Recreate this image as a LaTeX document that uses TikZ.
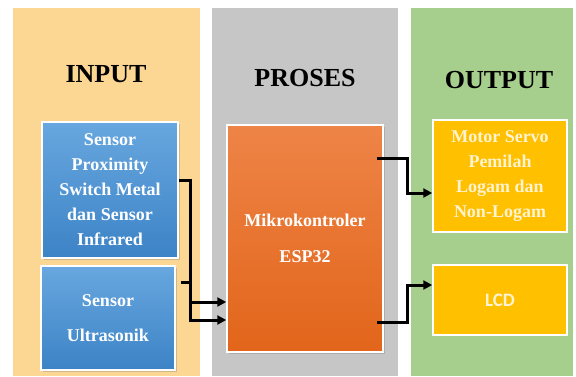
\documentclass[tikz,border=0pt]{standalone}
\usepackage{fontspec}
\setmainfont{Liberation Serif}
\newfontfamily\carlito{Carlito}
\usetikzlibrary{arrows.meta,shadows}
\definecolor{inbg}{HTML}{FCD793}
\definecolor{prbg}{HTML}{C6C6C6}
\definecolor{outbg}{HTML}{A6CE8C}
\definecolor{bluetop}{HTML}{68A7DF}
\definecolor{bluebot}{HTML}{3C83C6}
\definecolor{orgtop}{HTML}{EE8447}
\definecolor{orgbot}{HTML}{E2651A}
\definecolor{yel}{HTML}{FFC000}
\definecolor{cream}{HTML}{FFF3D0}
\begin{document}
\begin{tikzpicture}[x=1pt,y=-1pt,
  title/.style={font=\fontsize{26}{30}\selectfont\bfseries,text=black},
  bluebox/.style={draw=white,line width=1.5pt,top color=bluetop,bottom color=bluebot,
    text=white,font=\fontsize{18}{25}\selectfont\bfseries,align=center,inner sep=0pt,
    drop shadow={shadow xshift=1.5pt,shadow yshift=-1.5pt,opacity=0.35}},
  orgbox/.style={draw=white,line width=1.5pt,top color=orgtop,bottom color=orgbot,
    text=white,font=\fontsize{18}{36}\selectfont\bfseries,align=center,inner sep=0pt,
    drop shadow={shadow xshift=1.5pt,shadow yshift=-1.5pt,opacity=0.35}},
  yelbox/.style={draw=white,line width=1.5pt,fill=yel,
    text=cream,font=\fontsize{18}{25}\selectfont\bfseries,align=center,inner sep=0pt},
  conn/.style={line width=3pt,black},
  arr/.style={conn,-{Triangle[length=9pt,width=9pt]}}]
\useasboundingbox (0,0) rectangle (576,376);
\fill[white] (0,0) rectangle (576,376);
% columns
\fill[inbg] (13,8) rectangle (200,376);
\fill[prbg] (212,8) rectangle (398,376);
\fill[outbg] (411,8) rectangle (573,376);
% titles
\node[title] (tin) at (106,74) {INPUT};
\node[title] (tpr) at (305,78) {PROSES};
\node[title] (tout) at (499,80) {OUTPUT};
% boxes
\node[bluebox,minimum width=136pt,minimum height=136pt] (prox) at (110,190)
  {Sensor\\Proximity\\Switch Metal\\dan Sensor\\Infrared};
\node[bluebox,minimum width=134pt,minimum height=104pt,font=\fontsize{18}{35}\selectfont\bfseries] (ultra) at (108,318)
  {Sensor\\Ultrasonik};
\node[orgbox,minimum width=156pt,minimum height=227pt] (mcu) at (305,238.5)
  {Mikrokontroler\\ESP32};
\node[yelbox,minimum width=134pt,minimum height=112pt] (servo) at (500,176)
  {Motor Servo\\Pemilah\\Logam dan\\Non-Logam};
\node[yelbox,minimum width=134pt,minimum height=70pt,font=\fontsize{19}{22}\selectfont\bfseries\carlito] (lcd) at (500,300)
  {LCD};
% input bus
\coordinate (bustop) at (190,180);
\coordinate (busbot) at (190,322);
\coordinate (busmid) at (190,282);
\coordinate (bA) at (190,302);
\coordinate (bB) at (190,320);
\draw[conn] (prox.east |- bustop) -- (bustop) -- (busbot);
\draw[conn] (ultra.east |- busmid) ++(5,0) -- (busmid);
\draw[arr] (bA) -- (mcu.west |- bA);
\draw[arr] (bB) -- (mcu.west |- bB);
% outputs
\coordinate (s1) at (377,158);
\coordinate (s2) at (407,158);
\coordinate (s3) at (407,193);
\draw[arr] (s1) -- (s2) -- (s3) -- (servo.west |- s3);
\coordinate (l1) at (377,322);
\coordinate (l2) at (407,322);
\coordinate (l3) at (407,285);
\draw[arr] (l1) -- (l2) -- (l3) -- (lcd.west |- l3);
\end{tikzpicture}
\end{document}
